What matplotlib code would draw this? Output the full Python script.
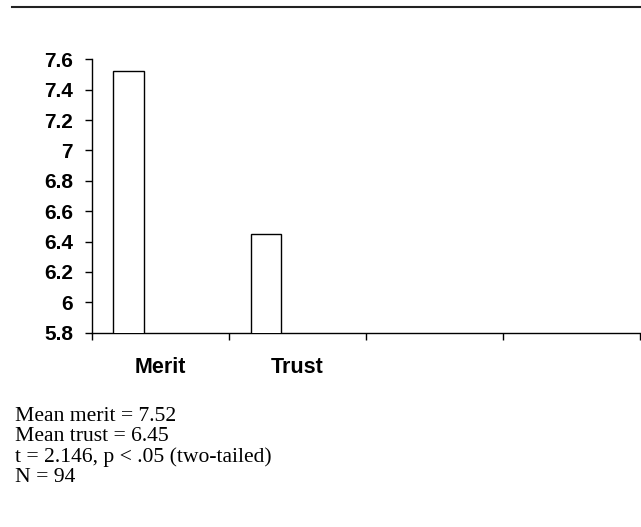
import matplotlib.pyplot as plt
import numpy as np
from matplotlib.lines import Line2D

# data
categories = ["Merit", "Trust", "", ""]
means = [7.52, 6.45]
notes = ["Mean merit = 7.52",
         "Mean trust = 6.45",
         "t = 2.146, p < .05 (two-tailed)",
         "N = 94"]
yticks = [5.8, 6, 6.2, 6.4, 6.6, 6.8, 7, 7.2, 7.4, 7.6]
ytick_labels = ["5.8", "6", "6.2", "6.4", "6.6", "6.8", "7", "7.2", "7.4", "7.6"]

W, H = 641, 527
fig = plt.figure(figsize=(W / 100, H / 100), dpi=100)
ax = fig.add_axes([91.7 / W, 1 - 332.7 / H, (640.5 - 91.7) / W, (332.7 - 59.3) / H])

x = np.arange(len(means))
ax.bar(x - 0.232, means, width=0.22, bottom=0, color='white',
       edgecolor='black', linewidth=1.0, zorder=3)

ax.set_ylim(5.8, 7.6)
ax.set_xlim(-0.5, len(categories) - 0.5)

ax.set_yticks(yticks)
ax.set_yticklabels(ytick_labels, fontfamily='Liberation Sans', fontweight='bold', fontsize=15)
ax.tick_params(axis='y', direction='out', length=5, width=1.0, pad=8.5)

# category boundaries get the tick marks, centres get the labels
ax.set_xticks(np.arange(len(categories) + 1) - 0.5)
ax.set_xticklabels([])
ax.set_xticks(np.arange(len(categories)), minor=True)
ax.set_xticklabels(categories, minor=True, fontfamily='Liberation Sans',
                   fontweight='bold', fontsize=15.5)
ax.tick_params(axis='x', which='major', direction='out', length=5, width=1.0)
ax.tick_params(axis='x', which='minor', length=0, pad=17.5)

for s in ['top', 'right']:
    ax.spines[s].set_visible(False)
for s in ['left', 'bottom']:
    ax.spines[s].set_linewidth(1.0)

# rule across the top
fig.add_artist(Line2D([11.7 / W, 1.0], [1 - 6.7 / H, 1 - 6.7 / H],
                      color='#222222', linewidth=1.5, transform=fig.transFigure))

baselines = [421, 441.3, 461.7, 482]
for txt, yb in zip(notes, baselines):
    fig.text(15 / W, 1 - yb / H, txt, fontfamily='Liberation Serif',
             fontsize=15.6, va='baseline', ha='left')

fig.savefig('out.png', dpi=100)
